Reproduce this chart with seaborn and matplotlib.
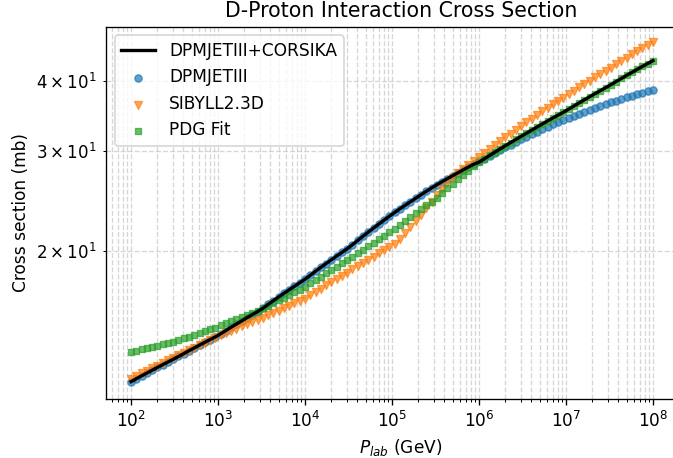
import numpy as np
import pandas as pd
import matplotlib
matplotlib.use("Agg")
import matplotlib.pyplot as plt
import seaborn as sns

# Laboratory momenta (GeV): 100 log-spaced points from 1e2 to 1e8
p_lab = np.logspace(2, 8, 100)

# Deuteron-proton inelastic cross sections (mb)
dpmjet = [
    11.72, 11.86, 12.00, 12.14, 12.28, 12.42, 12.56, 12.70, 12.84,
    12.99, 13.14, 13.30, 13.45, 13.61, 13.76, 13.92, 14.07,
    14.25, 14.44, 14.64, 14.83, 15.02, 15.22, 15.41, 15.60,
    15.81, 16.06, 16.31, 16.56, 16.81, 17.05, 17.30, 17.55,
    17.80, 18.09, 18.39, 18.69, 18.98, 19.27, 19.57, 19.86, 20.16,
    20.50, 20.86, 21.22, 21.58, 21.94, 22.30, 22.66, 23.02,
    23.38, 23.73, 24.08, 24.43, 24.78, 25.13, 25.49, 25.84,
    26.18, 26.51, 26.84, 27.16, 27.49, 27.82, 28.15, 28.47,
    28.80, 29.14, 29.48, 29.82, 30.16, 30.50, 30.84, 31.17, 31.52,
    31.85, 32.17, 32.50, 32.83, 33.16, 33.48, 33.81, 34.14,
    34.44, 34.72, 35.00, 35.28, 35.55, 35.83, 36.11, 36.39,
    36.66, 36.90, 37.15, 37.39, 37.63, 37.87, 38.12, 38.36,
    38.60,
]

sibyll = [
    11.86, 11.99, 12.12, 12.25, 12.38, 12.51, 12.65, 12.78, 12.91,
    13.05, 13.19, 13.33, 13.47, 13.61, 13.75, 13.89, 14.03,
    14.17, 14.29, 14.42, 14.55, 14.68, 14.81, 14.94, 15.06,
    15.20, 15.36, 15.51, 15.67, 15.82, 15.98, 16.14, 16.29,
    16.45, 16.68, 16.91, 17.14, 17.37, 17.60, 17.82, 18.05, 18.28,
    18.53, 18.78, 19.03, 19.28, 19.53, 19.78, 20.03, 20.27,
    20.58, 21.00, 21.47, 21.99, 22.57, 23.18, 23.80, 24.43,
    25.07, 25.71, 26.34, 26.95, 27.47, 27.94, 28.39, 28.83,
    29.28, 29.75, 30.24, 30.74, 31.25, 31.76, 32.26, 32.77, 33.27,
    33.78, 34.29, 34.80, 35.31, 35.82, 36.33, 36.84, 37.34,
    37.88, 38.42, 38.96, 39.51, 40.05, 40.60, 41.15, 41.69,
    42.24, 42.83, 43.41, 43.99, 44.57, 45.15, 45.74, 46.32,
    46.90,
]

pdg_fit = [
    13.24, 13.31, 13.38, 13.44, 13.51, 13.58, 13.65, 13.71, 13.78,
    13.88, 13.98, 14.09, 14.20, 14.30, 14.41, 14.51, 14.62,
    14.74, 14.87, 15.00, 15.13, 15.26, 15.39, 15.52, 15.65,
    15.80, 15.98, 16.16, 16.34, 16.52, 16.70, 16.89, 17.07,
    17.25, 17.50, 17.75, 18.00, 18.24, 18.49, 18.74, 18.99, 19.24,
    19.52, 19.81, 20.10, 20.39, 20.68, 20.97, 21.26, 21.55,
    21.88, 22.25, 22.61, 22.97, 23.34, 23.70, 24.06, 24.43,
    24.82, 25.31, 25.79, 26.28, 26.76, 27.24, 27.73, 28.22,
    28.70, 29.10, 29.50, 29.90, 30.30, 30.70, 31.10, 31.50, 31.90,
    32.31, 32.72, 33.13, 33.55, 33.96, 34.37, 34.78, 35.19,
    35.64, 36.10, 36.57, 37.03, 37.50, 37.97, 38.43, 38.90,
    39.38, 39.89, 40.40, 40.91, 41.41, 41.92, 42.43, 42.94,
    43.45,
]

# Combined model: DPMJETIII below 1 PeV, PDG fit above
switch_energy = 1e6
corsika = np.where(p_lab < switch_energy * 0.999, dpmjet, pdg_fit)

df = pd.DataFrame({
    "p_lab": p_lab,
    "DPMJETIII": dpmjet,
    "SIBYLL2.3D": sibyll,
    "PDG Fit": pdg_fit,
    "DPMJETIII+CORSIKA": corsika,
})

dpi = 120
fig = plt.figure(figsize=(673 / dpi, 458 / dpi), dpi=dpi)
ax = fig.add_axes([106 / 673, 59 / 458, 590 / 673, 372.3 / 458])

palette = sns.color_palette("tab10")
marker_kw = dict(alpha=0.7, linewidth=0.8, ax=ax, zorder=2)
sns.scatterplot(data=df, x="p_lab", y="DPMJETIII", marker="o", s=19,
                color=palette[0], edgecolor=palette[0], label="DPMJETIII", **marker_kw)
sns.scatterplot(data=df, x="p_lab", y="SIBYLL2.3D", marker="v", s=23,
                color=palette[1], edgecolor=palette[1], label="SIBYLL2.3D", **marker_kw)
sns.scatterplot(data=df, x="p_lab", y="PDG Fit", marker="s", s=17,
                color=palette[2], edgecolor=palette[2], label="PDG Fit", **marker_kw)
sns.lineplot(data=df, x="p_lab", y="DPMJETIII+CORSIKA", color="black",
             linewidth=2, label="DPMJETIII+CORSIKA", ax=ax, zorder=3)

ax.set_xscale("log")
ax.set_yscale("log")
ax.set_xlim(10 ** (2 - 25 / 87), 10 ** (8 + 43 / 87))
ax.set_ylim(10.92, 49.9)
ax.spines["right"].set_visible(False)
ax.xaxis.get_offset_text().set_visible(False)
ax.yaxis.get_offset_text().set_visible(False)

ax.grid(True, which="both", linestyle="--", color="#cccccc", alpha=0.8, linewidth=0.8)
ax.set_axisbelow(True)

ax.set_title("D-Proton Interaction Cross Section", fontsize=12.3)
ax.set_xlabel(r"$P_{lab}$ (GeV)", fontsize=10.2)
ax.set_ylabel("Cross section (mb)", fontsize=10.2)
ax.tick_params(labelsize=10.2)

handles, labels = ax.get_legend_handles_labels()
order = [labels.index(name) for name in
         ["DPMJETIII+CORSIKA", "DPMJETIII", "SIBYLL2.3D", "PDG Fit"]]
ax.legend([handles[i] for i in order], [labels[i] for i in order],
          loc="upper left", fontsize=10.2)

fig.savefig("out.png", dpi=dpi)
